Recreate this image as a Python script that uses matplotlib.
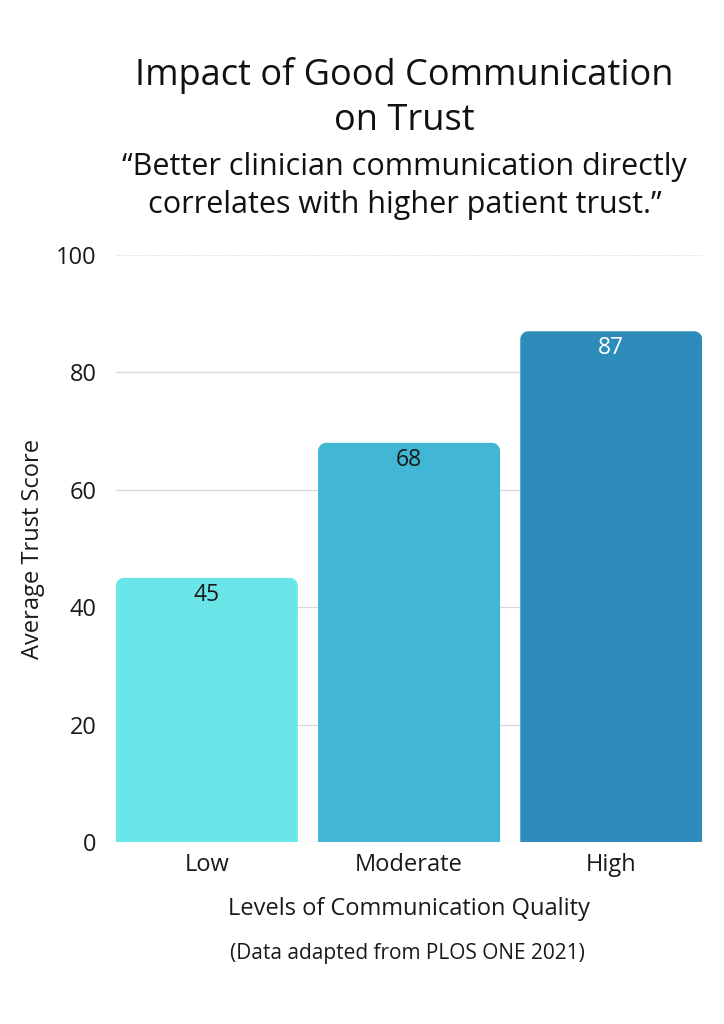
import matplotlib.pyplot as plt
from matplotlib.path import Path
from matplotlib.patches import PathPatch

plt.rcParams['font.family'] = ['Open Sans', 'DejaVu Sans']

categories = ['Low', 'Moderate', 'High']
trust_scores = [45, 68, 87]
bar_colors = ['#6ae5e8', '#42b7d5', '#2e8cba']
label_colors = ['#1a1a1a', '#1a1a1a', '#ffffff']
y_ticks = [0, 20, 40, 60, 80, 100]


def rounded_top_bar(ax, x0, w, h, rx, ry, color):
    # bar with rounded top corners, radius given in data units per axis
    k = 0.55
    verts = [(x0, 0), (x0, h - ry),
             (x0, h - ry + k * ry), (x0 + rx - k * rx, h), (x0 + rx, h),
             (x0 + w - rx, h),
             (x0 + w - rx + k * rx, h), (x0 + w, h - ry + k * ry), (x0 + w, h - ry),
             (x0 + w, 0), (x0, 0)]
    codes = [Path.MOVETO, Path.LINETO,
             Path.CURVE4, Path.CURVE4, Path.CURVE4,
             Path.LINETO,
             Path.CURVE4, Path.CURVE4, Path.CURVE4,
             Path.LINETO, Path.CLOSEPOLY]
    ax.add_patch(PathPatch(Path(verts, codes), facecolor=color, edgecolor='none', zorder=3))


fig = plt.figure(figsize=(7.24, 10.24), dpi=100)
ax = fig.add_axes([0.160, 0.1777, 0.810, 0.5733])

width = 0.9
ax.set_xlim(-0.45, 2.45)
ax.set_ylim(0, 100)

# corner radius ~8 px
rx = 8 / 202.0
ry = 8 / 5.87
for i, (v, c) in enumerate(zip(trust_scores, bar_colors)):
    rounded_top_bar(ax, i - width / 2, width, v, rx, ry, c)
    ax.text(i, v - 2.9, str(v), ha='center', va='center', fontsize=16.5,
            color=label_colors[i], zorder=4)

for t in y_ticks[1:-1]:
    ax.axhline(t, color='#d9d9d9', lw=0.9, zorder=1)
ax.axhline(100, color='#dddddd', lw=0.8, ls=(0, (1, 1)), zorder=1)
ax.axhline(0, color='#cccccc', lw=1.0, zorder=2)

for s in ax.spines.values():
    s.set_visible(False)

ax.set_yticks(y_ticks)
ax.set_yticklabels([str(t) for t in y_ticks], fontsize=17, color='#1a1a1a')
ax.set_xticks(range(len(categories)))
ax.set_xticklabels(categories, fontsize=17, color='#1a1a1a')
ax.tick_params(axis='both', length=0)
ax.tick_params(axis='y', pad=14)
ax.tick_params(axis='x', pad=8)

ax.set_ylabel('Average Trust Score', fontsize=17, color='#1a1a1a', labelpad=8)
ax.set_xlabel('Levels of Communication Quality', fontsize=17, color='#1a1a1a', labelpad=14)

fig.text(0.559, 1 - 75 / 1024, 'Impact of Good Communication', ha='center', va='center',
         fontsize=26, color='#111111')
fig.text(0.559, 1 - 121 / 1024, 'on Trust', ha='center', va='center',
         fontsize=26, color='#111111')
fig.text(0.559, 1 - 167 / 1024, '\u201cBetter clinician communication directly', ha='center',
         va='center', fontsize=22, color='#111111')
fig.text(0.559, 1 - 205 / 1024, 'correlates with higher patient trust.\u201d', ha='center',
         va='center', fontsize=22, color='#111111')
fig.text(0.563, 1 - 954 / 1024, '(Data adapted from PLOS ONE 2021)', ha='center', va='center',
         fontsize=15, color='#1a1a1a')

fig.savefig('out.png', dpi=100, facecolor='white')
